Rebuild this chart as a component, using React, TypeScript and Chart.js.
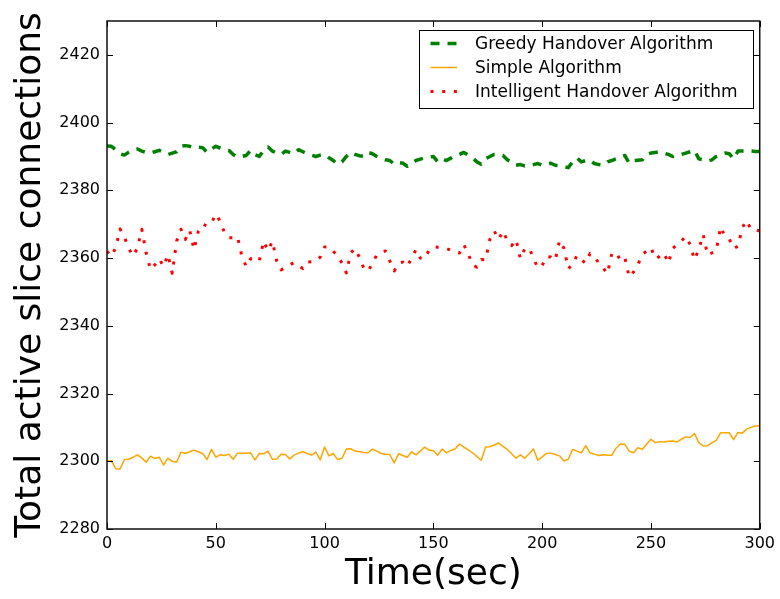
import React, { useEffect, useRef } from 'react';
import { Chart, registerables } from 'chart.js';

Chart.register(...registerables);

const times = [
  0, 2, 4, 6, 8, 10, 12, 14, 16, 18, 20, 22, 24, 26, 28, 30, 32, 34, 36, 38,
  40, 42, 44, 46, 48, 50, 52, 54, 56, 58, 60, 62, 64, 66, 68, 70, 72, 74, 76, 78,
  80, 82, 84, 86, 88, 90, 92, 94, 96, 98, 100, 102, 104, 106, 108, 110, 112, 114, 116, 118,
  120, 122, 124, 126, 128, 130, 132, 134, 136, 138, 140, 142, 144, 146, 148, 150, 152, 154, 156, 158,
  160, 162, 164, 166, 168, 170, 172, 174, 176, 178, 180, 182, 184, 186, 188, 190, 192, 194, 196, 198,
  200, 202, 204, 206, 208, 210, 212, 214, 216, 218, 220, 222, 224, 226, 228, 230, 232, 234, 236, 238,
  240, 242, 244, 246, 248, 250, 252, 254, 256, 258, 260, 262, 264, 266, 268, 270, 272, 274, 276, 278,
  280, 282, 284, 286, 288, 290, 292, 294, 296, 298, 300,
];

const greedyValues = [
  2393.1, 2393.0, 2392.0, 2390.8, 2390.4, 2391.3, 2392.0, 2392.2, 2391.6, 2391.2,
  2391.0, 2391.4, 2391.8, 2391.2, 2390.6, 2391.0, 2391.4, 2393.0, 2393.2, 2393.0,
  2392.5, 2392.7, 2392.6, 2391.2, 2392.2, 2393.0, 2392.5, 2392.0, 2391.8, 2390.6,
  2389.8, 2390.0, 2390.3, 2391.8, 2390.5, 2390.0, 2391.8, 2392.8, 2391.6, 2391.0,
  2390.6, 2391.6, 2391.2, 2390.8, 2392.0, 2391.4, 2390.8, 2390.4, 2390.0, 2390.4,
  2390.6, 2389.6, 2388.8, 2387.7, 2388.4, 2390.0, 2391.2, 2390.6, 2390.2, 2390.0,
  2391.2, 2390.8, 2390.0, 2389.4, 2389.0, 2388.8, 2387.7, 2388.2, 2388.0, 2387.1,
  2388.0, 2388.8, 2389.2, 2389.6, 2389.8, 2390.0, 2388.4, 2389.3, 2388.8, 2389.5,
  2390.2, 2390.6, 2391.2, 2390.4, 2389.6, 2388.4, 2387.7, 2389.3, 2390.0, 2390.6,
  2390.5, 2390.3, 2389.0, 2388.4, 2387.4, 2387.6, 2387.2, 2387.4, 2387.6, 2387.9,
  2387.4, 2387.8, 2388.0, 2387.4, 2387.2, 2387.0, 2386.7, 2388.4, 2389.6, 2388.4,
  2388.8, 2389.0, 2387.9, 2387.6, 2387.4, 2388.4, 2388.8, 2389.3, 2390.0, 2390.3,
  2388.0, 2388.8, 2388.9, 2389.0, 2390.6, 2391.0, 2391.2, 2391.4, 2391.0, 2390.6,
  2390.0, 2390.4, 2390.6, 2391.0, 2391.4, 2391.8, 2389.3, 2389.0, 2388.6, 2389.0,
  2390.0, 2390.6, 2391.0, 2390.8, 2389.3, 2391.6, 2391.6, 2391.6, 2391.6, 2391.5,
  2391.5,
];

const simpleValues = [
  2300.0, 2300.2, 2297.8, 2297.7, 2300.5, 2300.6, 2301.2, 2301.9, 2301.0, 2299.7,
  2301.5, 2300.8, 2301.2, 2298.9, 2300.9, 2300.0, 2299.7, 2302.7, 2302.3, 2302.8,
  2303.3, 2302.8, 2302.3, 2300.5, 2303.5, 2301.2, 2301.9, 2301.7, 2302.1, 2300.6,
  2302.4, 2302.4, 2302.4, 2302.5, 2300.4, 2302.3, 2302.2, 2303.0, 2300.6, 2300.7,
  2302.1, 2302.0, 2300.7, 2301.8, 2302.4, 2302.8, 2302.3, 2301.8, 2302.7, 2300.4,
  2304.2, 2301.6, 2302.3, 2300.5, 2300.9, 2303.6, 2303.7, 2303.0, 2302.8, 2302.6,
  2302.5, 2303.6, 2303.0, 2302.3, 2302.1, 2302.0, 2299.5, 2302.2, 2301.7, 2301.2,
  2302.8, 2301.9, 2303.0, 2304.2, 2303.3, 2303.1, 2301.8, 2303.6, 2302.5, 2303.2,
  2303.6, 2305.1, 2304.2, 2303.4, 2302.5, 2301.4, 2300.3, 2304.2, 2304.3, 2304.8,
  2305.4, 2304.4, 2303.5, 2302.2, 2300.9, 2301.9, 2300.9, 2302.2, 2303.6, 2300.3,
  2301.3, 2302.3, 2302.4, 2302.0, 2301.6, 2300.1, 2300.6, 2303.5, 2303.0, 2302.5,
  2304.6, 2302.5, 2302.1, 2301.7, 2301.9, 2301.8, 2301.8, 2303.9, 2305.1, 2305.0,
  2303.0, 2302.5, 2304.0, 2303.5, 2305.0, 2306.5, 2305.5, 2305.8, 2305.7, 2305.9,
  2306.0, 2305.7, 2306.5, 2307.2, 2307.0, 2308.2, 2305.5, 2304.5, 2304.6, 2305.4,
  2306.2, 2308.4, 2308.4, 2308.4, 2306.4, 2308.5, 2308.3, 2309.5, 2310.0, 2310.4,
  2310.5,
];

const intelligentValues = [
  2362.0, 2360.5, 2363.0, 2368.6, 2366.2, 2362.8, 2360.6, 2363.0, 2368.5, 2361.5,
  2356.6, 2358.0, 2359.8, 2357.5, 2361.0, 2355.5, 2365.0, 2368.5, 2365.5, 2368.2,
  2362.5, 2368.0, 2370.0, 2369.5, 2370.3, 2373.0, 2370.9, 2367.5, 2366.0, 2366.0,
  2366.3, 2360.5, 2357.5, 2359.8, 2360.0, 2359.2, 2365.0, 2362.2, 2365.0, 2359.1,
  2356.5, 2357.3, 2358.0, 2358.7, 2357.8, 2356.9, 2358.8, 2358.9, 2359.1, 2360.3,
  2363.3, 2363.3, 2362.0, 2360.8, 2358.5, 2355.6, 2361.5, 2362.8, 2360.3, 2357.0,
  2356.1, 2358.5, 2360.9, 2361.5, 2362.1, 2359.1, 2356.2, 2358.5, 2358.8, 2357.5,
  2360.0, 2362.5, 2360.0, 2359.8, 2362.3, 2363.3, 2363.2, 2363.1, 2362.8, 2362.3,
  2361.8, 2361.5, 2364.0, 2361.3, 2358.0, 2357.3, 2359.6, 2359.5, 2365.6, 2368.0,
  2365.5, 2368.0, 2365.2, 2363.7, 2365.5, 2359.8, 2362.7, 2363.0, 2360.0, 2357.1,
  2357.8, 2360.5, 2360.3, 2359.3, 2365.2, 2362.9, 2356.9, 2358.1, 2360.8, 2359.5,
  2358.5, 2361.3, 2360.5, 2358.5, 2357.1, 2355.4, 2361.3, 2361.7, 2359.3, 2360.1,
  2354.4, 2355.9, 2358.0, 2361.1, 2362.0, 2363.1, 2359.8, 2360.5, 2361.5, 2358.5,
  2362.8, 2364.0, 2365.0, 2366.4, 2364.0, 2359.5, 2362.5, 2367.0, 2360.9, 2361.5,
  2362.1, 2369.2, 2366.4, 2365.6, 2362.8, 2363.5, 2369.0, 2371.1, 2368.4, 2368.4,
  2368.0,
];

const xTicks = [0, 50, 100, 150, 200, 250, 300];
const yTicks = [2280, 2300, 2320, 2340, 2360, 2380, 2400, 2420];

const seriesNames = ['Greedy Handover Algorithm', 'Simple Algorithm', 'Intelligent Handover Algorithm'];

const FONT = "'DejaVu Sans', sans-serif";

const toPoints = (vals: number[]) => vals.map((v, i) => ({ x: times[i], y: v }));

const framePlugin = {
  id: 'mplFrame',
  afterDatasetsDraw(chart: any) {
    const { ctx, chartArea } = chart;
    const { left, right, top, bottom } = chartArea;
    const xs = chart.scales.x;
    const ys = chart.scales.y;
    ctx.save();
    ctx.strokeStyle = '#000';
    ctx.lineWidth = 1;
    const tl = 6;
    ctx.beginPath();
    xTicks.forEach((t) => {
      const px = Math.round(xs.getPixelForValue(t)) + 0.5;
      ctx.moveTo(px, bottom);
      ctx.lineTo(px, bottom - tl);
      ctx.moveTo(px, top);
      ctx.lineTo(px, top + tl);
    });
    yTicks.forEach((t) => {
      const py = Math.round(ys.getPixelForValue(t)) + 0.5;
      ctx.moveTo(left, py);
      ctx.lineTo(left + tl, py);
      ctx.moveTo(right, py);
      ctx.lineTo(right - tl, py);
    });
    ctx.stroke();
    ctx.lineWidth = 1.5;
    ctx.strokeStyle = '#111';
    ctx.strokeRect(left, top, right - left, bottom - top);

    // legend
    const bx = 419.5;
    const by = 30.5;
    const bw = 334;
    const bh = 78;
    ctx.fillStyle = '#fff';
    ctx.fillRect(bx, by, bw, bh);
    ctx.lineWidth = 1;
    ctx.strokeStyle = '#000';
    ctx.strokeRect(bx, by, bw, bh);
    const rows = [43.5, 67.5, 91.5];
    chart.data.datasets.forEach((ds: any, i: number) => {
      const y = rows[i];
      ctx.save();
      ctx.strokeStyle = ds.borderColor;
      ctx.lineWidth = ds.borderWidth;
      ctx.setLineDash(ds.borderDash || []);
      ctx.lineCap = 'butt';
      ctx.beginPath();
      ctx.moveTo(430.5, y);
      ctx.lineTo(457, y);
      ctx.stroke();
      ctx.restore();
      ctx.fillStyle = '#000';
      ctx.font = `17px ${FONT}`;
      ctx.textBaseline = 'middle';
      ctx.textAlign = 'left';
      ctx.fillText(ds.label, 475, y + 1);
    });
    ctx.restore();
  },
};

export default function App() {
  const ref = useRef<HTMLCanvasElement | null>(null);
  useEffect(() => {
    if (!ref.current) return;
    const chart = new Chart(ref.current, {
      type: 'line',
      data: {
        datasets: [
          {
            label: seriesNames[0],
            data: toPoints(greedyValues),
            borderColor: '#008000',
            borderWidth: 3.5,
            borderDash: [9, 8],
            borderJoinStyle: 'round',
            borderCapStyle: 'butt',
            pointRadius: 0,
            tension: 0,
            fill: false,
          },
          {
            label: seriesNames[1],
            data: toPoints(simpleValues),
            borderColor: '#FFA500',
            borderWidth: 1.5,
            borderJoinStyle: 'round',
            pointRadius: 0,
            tension: 0,
            fill: false,
          },
          {
            label: seriesNames[2],
            data: toPoints(intelligentValues),
            borderColor: '#FF0000',
            borderWidth: 3,
            borderDash: [3, 8.7],
            borderJoinStyle: 'round',
            borderCapStyle: 'butt',
            pointRadius: 0,
            tension: 0,
            fill: false,
          },
        ],
      },
      options: {
        responsive: false,
        animation: false,
        events: [],
        layout: { padding: { left: 0, right: 19, top: 21, bottom: 0 } },
        plugins: {
          legend: { display: false },
          tooltip: { enabled: false },
        },
        scales: {
          x: {
            type: 'linear',
            min: 0,
            max: 300,
            afterBuildTicks: (scale: any) => {
              scale.ticks = xTicks.map((v) => ({ value: v }));
            },
            afterFit: (scale: any) => {
              scale.height = 70;
            },
            grid: { display: false, drawTicks: false },
            border: { display: false },
            ticks: {
              color: '#000',
              font: { family: FONT, size: 16 },
              padding: 5,
              maxRotation: 0,
              autoSkip: false,
              callback: (v: any) => String(v),
            },
            title: {
              display: true,
              text: 'Time(sec)',
              color: '#000',
              font: { family: FONT, size: 36 },
              padding: { top: 0, bottom: 3 },
            },
          },
          y: {
            type: 'linear',
            min: 2280,
            max: 2430,
            afterBuildTicks: (scale: any) => {
              scale.ticks = yTicks.map((v) => ({ value: v }));
            },
            afterFit: (scale: any) => {
              scale.width = 107;
            },
            grid: { display: false, drawTicks: false },
            border: { display: false },
            ticks: {
              color: '#000',
              font: { family: FONT, size: 16 },
              padding: 7,
              autoSkip: false,
              callback: (v: any) => String(v),
            },
            title: {
              display: true,
              text: 'Total active slice connections',
              color: '#000',
              font: { family: FONT, size: 36 },
              padding: { top: 9, bottom: 0 },
            },
          },
        },
      },
      plugins: [framePlugin],
    } as any);
    return () => chart.destroy();
  }, []);
  return (
    <div style={{ position: 'fixed', left: 0, top: 0, width: 780, height: 599, background: '#fff' }}>
      <canvas ref={ref} width={780} height={599} style={{ width: 780, height: 599 }} />
    </div>
  );
}
